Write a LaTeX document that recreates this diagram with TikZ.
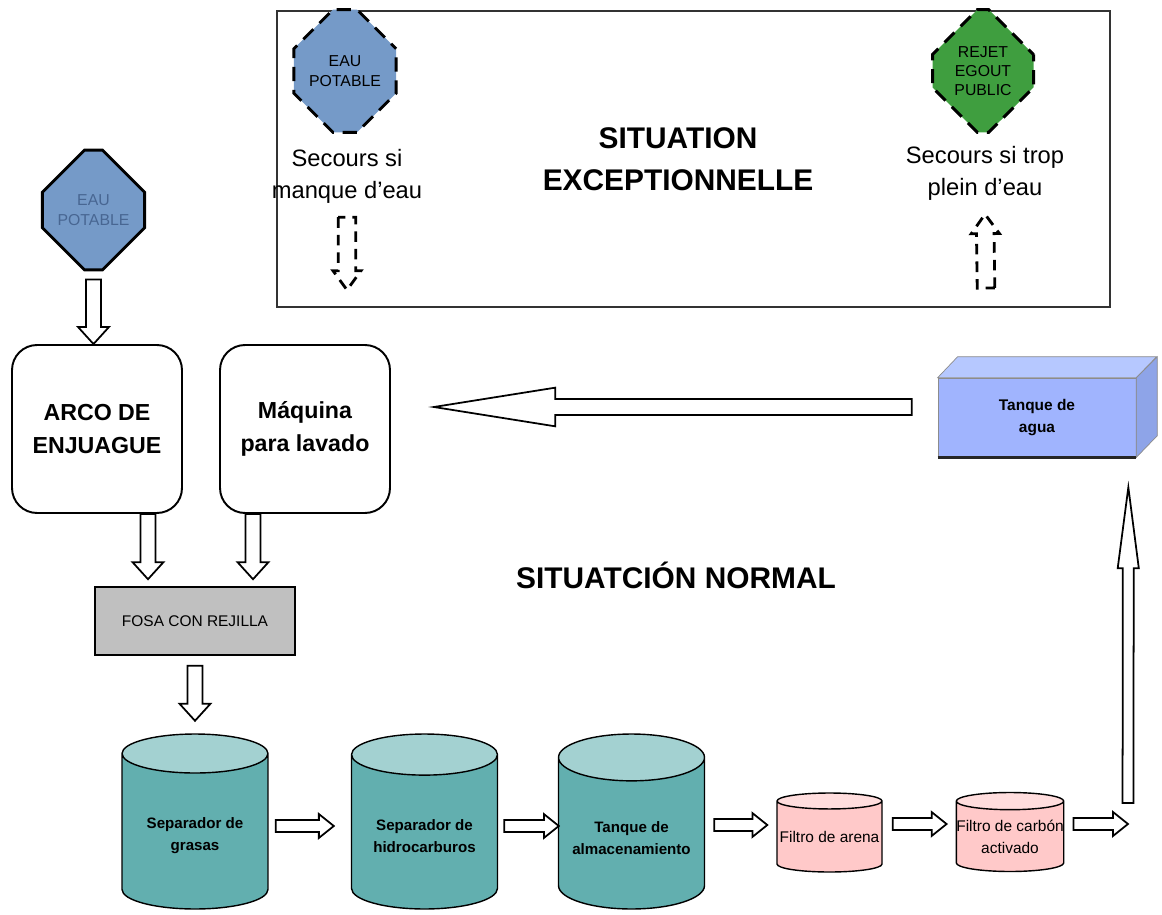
\documentclass[tikz,border=0pt]{standalone}
\usepackage{fontspec}
\setmainfont{Liberation Sans}
\usetikzlibrary{positioning, calc, shapes.geometric, shapes.misc}

\definecolor{eaublue}{RGB}{117,154,200}
\definecolor{eautext}{RGB}{72,102,146}
\definecolor{egoutgreen}{RGB}{63,158,63}
\definecolor{tealbody}{RGB}{98,175,175}
\definecolor{tealtop}{RGB}{163,209,209}
\definecolor{pinkbody}{RGB}{255,201,201}
\definecolor{pinktop}{RGB}{255,221,221}
\definecolor{fosagray}{RGB}{192,192,192}
\definecolor{tankfront}{RGB}{160,180,254}
\definecolor{tanktop}{RGB}{182,200,255}
\definecolor{tankside}{RGB}{142,164,232}

\tikzset{
  arshaft/.store in=\arshaft, arhead/.store in=\arhead, arlen/.store in=\arlen,
  arshaft=4.3pt, arhead=8.8pt, arlen=9.7pt,
  blockarr/.style={draw=black, fill=white, line width=1pt,
    to path={let \p1=(\tikztostart), \p2=(\tikztotarget),
      \n1={veclen(\x2-\x1,\y2-\y1)}, \n2={atan2(\y2-\y1,\x2-\x1)} in
      [shift={(\p1)}, rotate=\n2]
      (0pt,-\arshaft) -- ({\n1-\arlen},-\arshaft) -- ({\n1-\arlen},-\arhead)
      -- (\n1,0pt) -- ({\n1-\arlen},\arhead) -- ({\n1-\arlen},\arshaft)
      -- (0pt,\arshaft) -- cycle}},
  flatarr/.style={blockarr, arshaft=3.4pt, arhead=6.8pt, arlen=8.5pt},
  dasharr/.style={blockarr, fill=none, line width=1.6pt, dash pattern=on 6pt off 4pt,
    arshaft=5pt, arhead=8pt, arlen=11pt},
}

\begin{document}
\begin{tikzpicture}[x=0.02cm, y=-0.02cm,
    octdash/.style={chamfered rectangle, chamfered rectangle xsep=0.42cm,
      chamfered rectangle ysep=0.48cm, draw=black, line width=1.7pt,
      dash pattern=on 8pt off 5pt, dash phase=4pt, minimum width=1.96cm,
      minimum height=2.46cm, inner sep=0pt, align=center,
      font=\fontsize{9}{11}\selectfont},
    octsolid/.style={octdash, solid, chamfered rectangle xsep=0.5cm,
      chamfered rectangle ysep=0.54cm, minimum width=1.94cm, minimum height=2.4cm,
      fill=eaublue, text=eautext},
    secours/.style={align=center, font=\fontsize{13.5}{18.2}\selectfont},
    titre/.style={align=center, font=\fontsize{17}{24}\selectfont\bfseries},
    roundbox/.style={draw=black, line width=1.1pt, rounded corners=0.5cm,
      minimum width=3.4cm, minimum height=3.36cm, align=center,
      font=\fontsize{13.2}{18.8}\selectfont\bfseries},
    fosabox/.style={draw=black, line width=0.9pt, fill=fosagray, minimum width=4cm,
      minimum height=1.36cm, font=\fontsize{8.8}{11}\selectfont},
    tealcyl/.style={cylinder, shape border rotate=90, aspect=0.36, draw=black,
      line width=0.8pt, cylinder uses custom fill, cylinder body fill=tealbody,
      cylinder end fill=tealtop, minimum width=2.92cm, minimum height=3.5cm,
      anchor=shape center, align=center,
      font=\fontsize{8.6}{12.5}\selectfont\bfseries},
    pinkcyl/.style={tealcyl, aspect=0.16, cylinder body fill=pinkbody,
      cylinder end fill=pinktop, minimum width=2.1cm, minimum height=1.58cm,
      inner sep=0pt, font=\fontsize{8.8}{12.5}\selectfont},
    tankbox/.style={fill=tankfront, draw=black!45, line width=0.4pt,
      minimum width=3.96cm, minimum height=1.58cm, align=center,
      font=\fontsize{8.8}{12.5}\selectfont\bfseries}]
\useasboundingbox (0,0) rectangle (1162,915);

% situation exceptionnelle
\draw[line width=1.1pt, black!80] (277,11) rectangle (1110,307);
\node[octdash, fill=eaublue] (eaua) at (345,71) {EAU\\POTABLE};
\node[octdash, fill=egoutgreen, minimum width=2.02cm] (egout) at (983,71) {REJET\\EGOUT\\PUBLIC};
\node[secours] (seca) at (347,176) {Secours si\\manque d’eau};
\node[secours] (secb) at (985,173) {Secours si trop\\plein d’eau};
\node[titre] (exctitle) at (678,159) {SITUATION\\EXCEPTIONNELLE};
\coordinate (seca0) at (347,290);
\coordinate (secb0) at (986,288);
\draw[dasharr] ($(seca.south)+(0,8)$) to (seca0);
\draw[dasharr] (secb0) to ($(secb.south)+(0,8)$);

% situation normale
\node[titre] (normal) at (676,575) {SITUATCIÓN NORMAL};
\node[octsolid] (eaub) at (93.5,210) {EAU\\POTABLE};
\node[roundbox] (arco) at (97,429) {ARCO DE\\ENJUAGUE};
\node[roundbox] (maq) at (305,429) {Máquina\\para lavado};
\node[fosabox] (fosa) at (195,621) {FOSA CON REJILLA};
\node[tealcyl] (sep1) at (195,821.5) {Separador de\\grasas};
\node[tealcyl] (sep2) at (424.5,821.5) {Separador de\\hidrocarburos};
\node[tealcyl] (stock) at (631.5,821.5) {Tanque de\\almacenamiento};
\node[pinkcyl] (arena) at (829.5,832.5) {Filtro de arena};
\node[pinkcyl] (carbon) at (1010,832) {Filtro de carbón\\activado};

% tanque de agua
\node[tankbox] (tanque) at (1037,417.5) {Tanque de\\agua};
\filldraw[fill=tanktop, draw=black!45, line width=0.4pt] (tanque.north west) -- ++(20,-21) -- ++(199,0) -- (tanque.north east) -- cycle;
\filldraw[fill=tankside, draw=black!45, line width=0.4pt] (tanque.north east) -- ++(21,-21) -- ++(0,79) -- (tanque.south east) -- cycle;
\draw[line width=2pt, black!85] (tanque.south west) -- (tanque.south east);

% fleches
\coordinate (a1) at ($(arco.south)+(51,0)$);
\coordinate (a2) at ($(maq.south)+(-52,0)$);
\coordinate (out) at (1128,824);
\coordinate (upfoot) at (1128,803);
\coordinate (uptip) at ($(tanque.south east)+(-8,30)$);
\draw[blockarr] ($(eaub.south)+(0,8)$) to (eaub.south |- arco.north);
\draw[blockarr] (a1) to ($(a1 |- fosa.north)+(0,-7)$);
\draw[blockarr] (a2) to ($(a2 |- fosa.north)+(0,-7)$);
\draw[blockarr] ($(fosa.south)+(0,10)$) to ($(fosa.south)+(0,65)$);
\draw[flatarr] (sep1.east |- 0,826) ++(7,0) to ($(sep2.west |- 0,826)+(-17,0)$);
\draw[flatarr] ($(sep2.east |- 0,826)+(6,0)$) to ($(stock.west |- 0,826)+(1,0)$);
\draw[flatarr] ($(stock.east |- 0,825)+(9,0)$) to ($(arena.west |- 0,825)+(-9,0)$);
\draw[flatarr] ($(arena.east |- 0,824)+(10,0)$) to ($(carbon.west |- 0,824)+(-9,0)$);
\draw[flatarr] ($(carbon.east |- 0,824)+(9,0)$) to (out);
\draw[blockarr, arshaft=3.1pt, arhead=6pt, arlen=46pt] (upfoot) to (uptip);
\draw[blockarr, arshaft=4.6pt, arhead=11pt, arlen=69pt] ($(tanque.west)+(-26,-10.5)$) to ($(maq.east)+(43,-22)$);
\end{tikzpicture}
\end{document}
